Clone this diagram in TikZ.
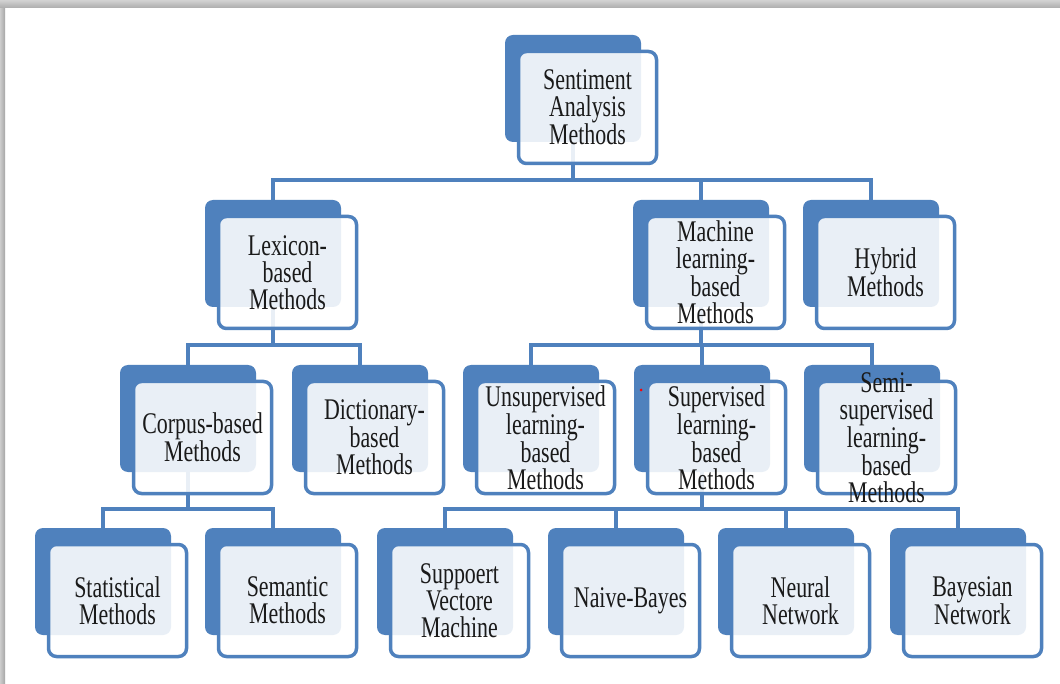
\documentclass[tikz,border=0pt]{standalone}
\usepackage{fontspec}
\newfontfamily\boxfont[FakeStretch=0.73]{Liberation Serif}
\usetikzlibrary{backgrounds}
\definecolor{sblue}{HTML}{4F81BD}
\definecolor{txt}{HTML}{1A1A1A}
\newcommand\boxpair[4]{%
  \node[backbox] (#1-b) at (#2+68,#3+53.5) {};
  \node[frontbox] (#1) at (#2+82.5,#3+72.5) {};
  \node[boxtext] (#1-t) at (#1.center) {#4};}
\begin{document}
\begin{tikzpicture}[x=1pt,y=-1pt,
  backbox/.style={fill=sblue, rounded corners=8pt, minimum width=136pt, minimum height=107pt, inner sep=0pt, outer sep=0pt},
  frontbox/.style={draw=sblue, line width=3.5pt, fill=white, fill opacity=0.88, rounded corners=8pt, minimum width=138pt, minimum height=112pt, inner sep=0pt, outer sep=0pt},
  boxtext/.style={inner sep=0pt, align=center, font=\boxfont\fontsize{30}{27}\selectfont, text=txt},
  conn/.style={draw=sblue, line width=4pt, line join=miter}]
\useasboundingbox (0,0) rectangle (1060,684);
% level 0
\boxpair{root}{505}{35}{Sentiment\\Analysis\\Methods}
% level 1
\boxpair{lex}{205}{200}{Lexicon-\\based\\Methods}
\boxpair{ml}{633}{200}{Machine\\learning-\\based\\Methods}
\boxpair{hyb}{803}{200}{Hybrid\\Methods}
% level 2
\boxpair{corp}{120}{365}{Corpus-based\\Methods}
\boxpair{dict}{292}{365}{Dictionary-\\based\\Methods}
\boxpair{unsup}{463}{365}{Unsupervised\\learning-\\based\\Methods}
\boxpair{sup}{634}{365}{Supervised\\learning-\\based\\Methods}
\boxpair{semi}{804}{365}{Semi-\\supervised\\learning-\\based\\Methods}
% level 3
\boxpair{stat}{35}{528}{Statistical\\Methods}
\boxpair{sem}{205}{528}{Semantic\\Methods}
\boxpair{svm}{377}{528}{Suppoert\\Vectore\\Machine}
\boxpair{nb}{548}{528}{Naive-Bayes}
\boxpair{nn}{718}{528}{Neural\\Network}
\boxpair{bn}{890}{528}{Bayesian\\Network}
\fill[red] (641,390) circle (1.5pt);
\begin{pgfonlayer}{background}
\fill[white] (0,0) rectangle (1060,684);
\shade[left color=gray!40, right color=gray!70] (0,0) rectangle (5,684);
\shade[top color=gray!35, bottom color=gray!65] (0,0) rectangle (1060,8);
\coordinate (bus0) at (0,180);
\coordinate (bus1) at (0,345);
\coordinate (bus2) at (0,345);
\coordinate (bus3) at (0,509);
\coordinate (bus4) at (0,509);
% root
\draw[conn] (root-b.center) -- (root-b.center |- bus0);
\draw[conn] (lex-b.north) -- (lex-b.north |- bus0) -- (hyb-b.north |- bus0) -- (hyb-b.north);
\draw[conn] (ml-b.north) -- (ml-b.north |- bus0);
% lexicon
\draw[conn] (lex-b.center) -- (lex-b.center |- bus1);
\draw[conn] (corp-b.north) -- (corp-b.north |- bus1) -- (dict-b.north |- bus1) -- (dict-b.north);
% machine learning
\draw[conn] (ml-b.center) -- (ml-b.center |- bus2);
\draw[conn] (unsup-b.north) -- (unsup-b.north |- bus2) -- (semi-b.north |- bus2) -- (semi-b.north);
\draw[conn] (sup-b.north) -- (sup-b.north |- bus2);
% corpus
\draw[conn] (corp-b.center) -- (corp-b.center |- bus3);
\draw[conn] (stat-b.north) -- (stat-b.north |- bus3) -- (sem-b.north |- bus3) -- (sem-b.north);
% supervised
\draw[conn] (sup-b.center) -- (sup-b.center |- bus4);
\draw[conn] (svm-b.north) -- (svm-b.north |- bus4) -- (bn-b.north |- bus4) -- (bn-b.north);
\draw[conn] (nb-b.north) -- (nb-b.north |- bus4);
\draw[conn] (nn-b.north) -- (nn-b.north |- bus4);
\end{pgfonlayer}
\end{tikzpicture}
\end{document}
